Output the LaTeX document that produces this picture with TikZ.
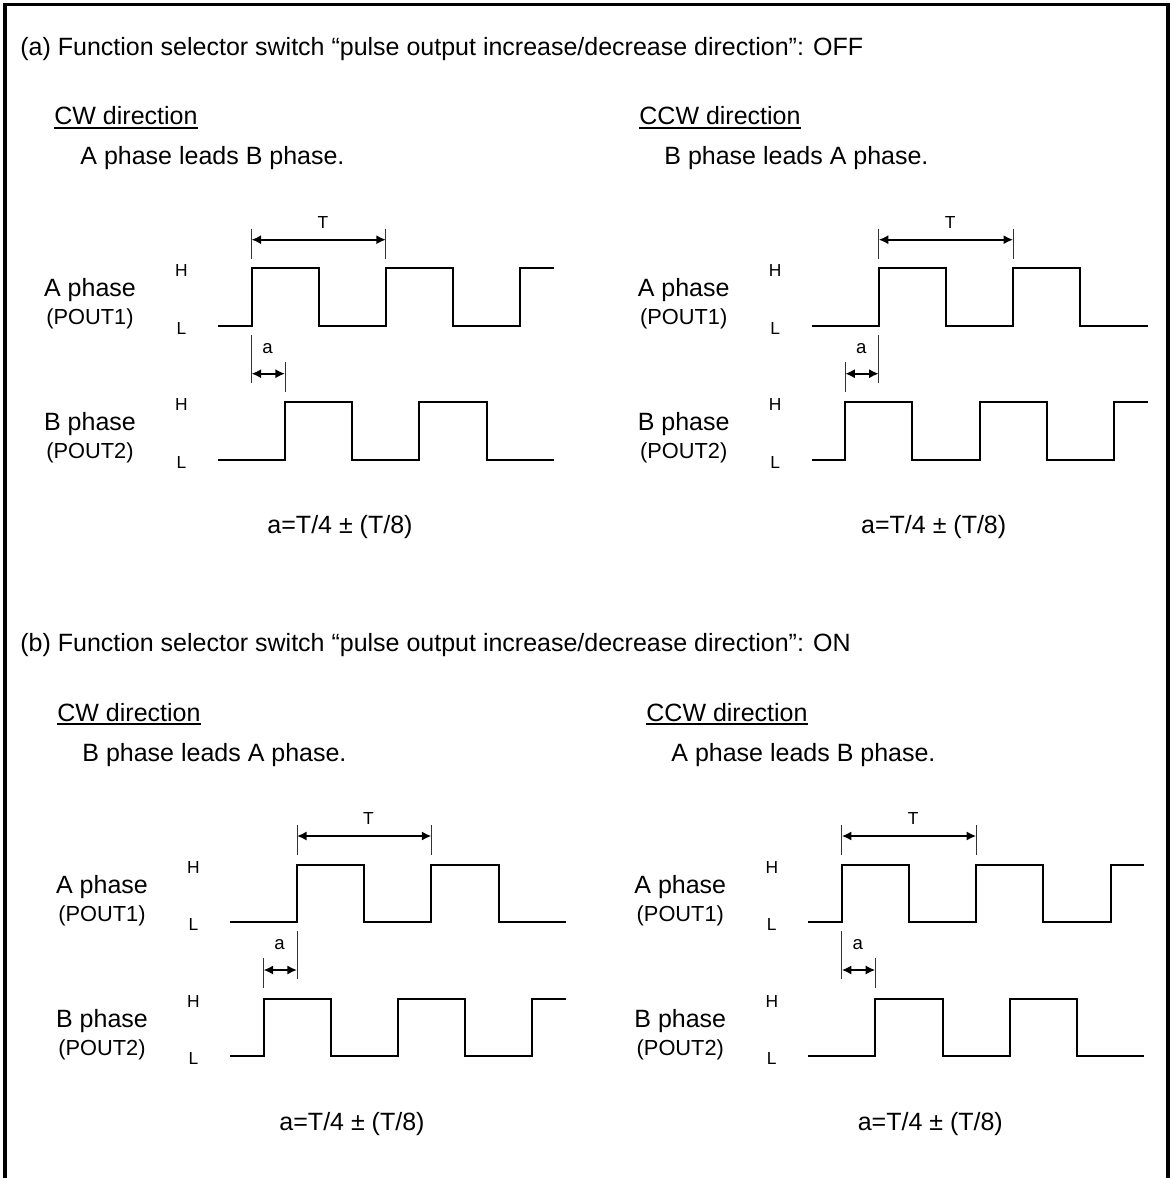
\documentclass[tikz,border=0pt]{standalone}
\usepackage{fontspec}
\setmainfont{Liberation Sans}
\usetikzlibrary{arrows.meta}

\tikzset{
  wave/.style={line width=1pt, line join=miter},
  dimline/.style={line width=1.1pt, {Latex[length=4.8pt,width=4.6pt]}-{Latex[length=4.8pt,width=4.6pt]}},
  tickline/.style={line width=0.5pt, black!80},
  uline/.style={line width=1pt},
  txt/.style={inner sep=0pt, anchor=base west, font=\fontsize{12.5}{15}\selectfont},
  phase/.style={inner sep=0pt, anchor=base, font=\fontsize{12.5}{15}\selectfont},
  pout/.style={inner sep=0pt, anchor=base, font=\fontsize{10.9}{13}\selectfont},
  lvl/.style={inner sep=0pt, anchor=base, font=\fontsize{8.7}{10}\selectfont}
}

\begin{document}
\begin{tikzpicture}[x=0.5pt,y=-0.5pt]
\useasboundingbox (0,0) rectangle (1169,1178);
% frame, open at the bottom
\draw[line width=1.75pt] (5,1178) -- (5,4.7) -- (1167.8,4.7) -- (1167.8,1178);

% headings
\node[txt] (ha) at (20,55) {(a) Function selector switch “pulse output increase/decrease direction”: OFF};
\node[txt] (acwd) at (54,124.5) {CW direction};
\node[txt] (acwl) at (80,164) {A phase leads B phase.};
\node[txt] (accwd) at (639,124.5) {CCW direction};
\node[txt] (accwl) at (664,164) {B phase leads A phase.};
\node[txt] (hb) at (20,651) {(b) Function selector switch “pulse output increase/decrease direction”: ON};
\node[txt] (bcwd) at (57,721) {CW direction};
\node[txt] (bcwl) at (82,761) {B phase leads A phase.};
\node[txt] (bccwd) at (646,721) {CCW direction};
\node[txt] (bccwl) at (671,761) {A phase leads B phase.};
\foreach \u in {acwd,accwd,bcwd,bccwd}
  \draw[uline] ([yshift=-1.6pt]\u.base west) -- ([yshift=-1.6pt]\u.base east);

% the four timing charts
\foreach \n/\px/\py/\la in {acw/218/325.7/0, accw/811.7/325.7/1, bcw/230/922/1, bccw/808.3/922/0} {
  \pgfmathsetmacro\ya{134*\la}      % row of leading wave
  \pgfmathsetmacro\yb{134*(1-\la)}  % row of lagging wave
  \pgfmathsetmacro\tx{33.5*(1+\la)} % first rise of A
  \pgfmathsetmacro\bx{33.5*(2-\la)} % first rise of B
  \begin{scope}[shift={(\px,\py)}]
    \node[phase] (\n-A) at (-128,-29) {A phase};
    \node[pout] (\n-P1) at (-128,-1) {(POUT1)};
    \node[phase] (\n-B) at (-128,105) {B phase};
    \node[pout] (\n-P2) at (-128,133) {(POUT2)};
    \node[lvl] (\n-H1) at (-36.5,-49) {H};
    \node[lvl] (\n-L1) at (-36.5,8.5) {L};
    \node[lvl] (\n-H2) at (-36.5,85) {H};
    \node[lvl] (\n-L2) at (-36.5,142.5) {L};
    \draw[wave, shift={(0,\ya)}] (0,0) -| (33.5,-57.5) -| (100.7,0) -| (167.9,-57.5)
      -| (235.1,0) -| (302.3,-57.5) -- (336,-57.5);
    \draw[wave, shift={(0,\yb)}] (0,0) -| (67,-57.5) -| (134.2,0) -| (201.4,-57.5)
      -| (268.6,0) -- (336,0);
    % period T
    \draw[tickline] (\tx,-97) -- (\tx,-67);
    \draw[tickline] (\tx+134.4,-97) -- (\tx+134.4,-67);
    \coordinate (\n-t1) at (\tx,-86);
    \coordinate (\n-t2) at (\tx+134.4,-86);
    \draw[dimline] (\n-t1) -- (\n-t2);
    \node[lvl] (\n-T) at (\tx+71.5,-97.4) {T};
    % phase difference a
    \draw[tickline] (\tx,9.3) -- (\tx,57.3);
    \draw[tickline] (\bx,36) -- (\bx,66);
    \coordinate (\n-a1) at (33.5,48);
    \coordinate (\n-a2) at (67,48);
    \draw[dimline] (\n-a1) -- (\n-a2);
    \node[lvl, font=\fontsize{9.3}{10}\selectfont] (\n-a) at (49.5,27.6) {a};
    \node[phase] (\n-f) at (122,208) {a=T/4 ± (T/8)};
  \end{scope}
}
\end{tikzpicture}
\end{document}
